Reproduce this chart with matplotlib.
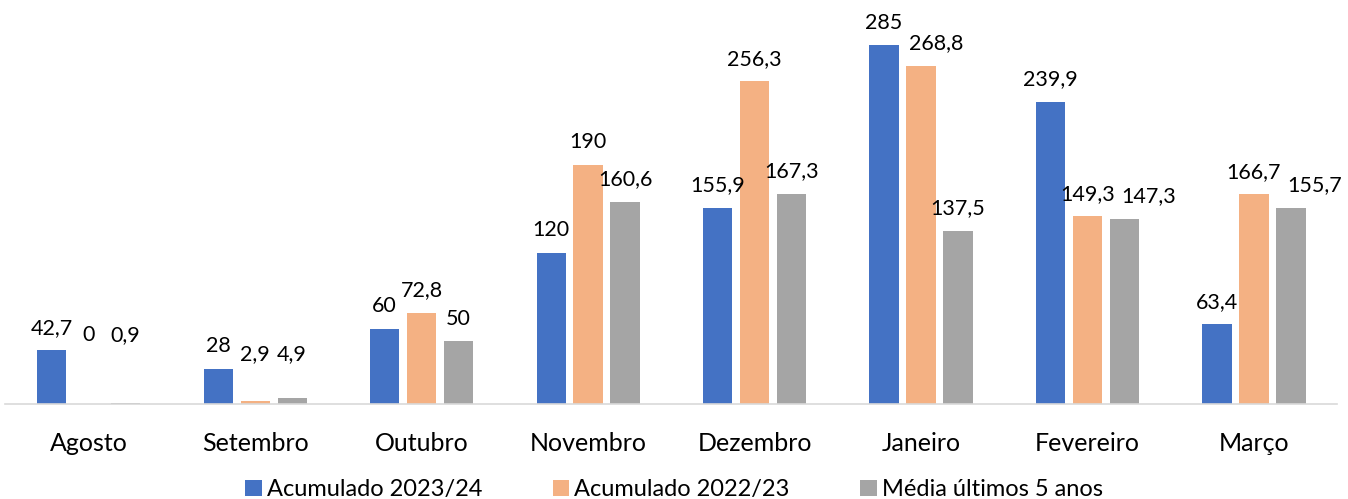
import numpy as np
import matplotlib.pyplot as plt

plt.rcParams['font.family'] = ['Lato', 'DejaVu Sans']

months = ["Agosto", "Setembro", "Outubro", "Novembro", "Dezembro", "Janeiro", "Fevereiro", "Março"]
acum_2324 = [42.7, 28, 60, 120, 155.9, 285, 239.9, 63.4]
acum_2223 = [0, 2.9, 72.8, 190, 256.3, 268.8, 149.3, 166.7]
media_5 = [0.9, 4.9, 50, 160.6, 167.3, 137.5, 147.3, 155.7]

series = [
    ("Acumulado 2023/24", acum_2324, "#4472C4"),
    ("Acumulado 2022/23", acum_2223, "#F4B183"),
    ("Média últimos 5 anos", media_5, "#A5A5A5"),
]


def fmt(v):
    return f"{v:g}".replace(".", ",")


fig = plt.figure(figsize=(13.48, 4.99), dpi=100)
ax = fig.add_axes([0.004, 0.19, 0.988, 0.81])

x = np.arange(len(months))
w = 0.175
step = 0.222
group_max = np.max([acum_2324, acum_2223, media_5], axis=0)
labels = [[] for _ in months]
for i, (name, vals, color) in enumerate(series):
    pos = x + (i - 1) * step
    ax.bar(pos, vals, width=w, color=color, label=name)
    for j, (p, v) in enumerate(zip(pos, vals)):
        # tiny bars: label lifted like Excel does to avoid clutter
        base = v if v >= 10 else max(v, group_max[j] - 6)
        t = ax.text(p, base + 10, fmt(v), ha="center", va="bottom", fontsize=15.5)
        labels[j].append(t)

ax.set_xlim(-0.5, len(months) - 0.5)
ax.set_ylim(0, 321)
ax.set_xticks(x)
ax.set_xticklabels(months, fontsize=18)
ax.tick_params(axis="x", length=0, pad=20)
ax.set_yticks([])
for s in ["top", "right", "left"]:
    ax.spines[s].set_visible(False)
ax.spines["bottom"].set_color("#D9D9D9")
ax.spines["bottom"].set_linewidth(1.2)

fig.legend(loc="lower center", bbox_to_anchor=(0.5, -0.045), ncol=3, frameon=False,
           fontsize=17, handlelength=0.7, handleheight=0.7, handletextpad=0.2,
           columnspacing=3.0)

# nudge crowded labels to the right, as Excel does
fig.canvas.draw()
r = fig.canvas.get_renderer()
inv = ax.transData.inverted()
for group in labels:
    for a, b in zip(group, group[1:]):
        ba = a.get_window_extent(r).expanded(1.0, 1.4)
        bb = b.get_window_extent(r)
        if ba.overlaps(bb):
            shift = ba.x1 + 6 - bb.x0
            x0 = inv.transform((0, 0))[0]
            x1 = inv.transform((shift, 0))[0]
            px, py = b.get_position()
            b.set_position((px + (x1 - x0), py))

fig.savefig("out.png", dpi=100)
